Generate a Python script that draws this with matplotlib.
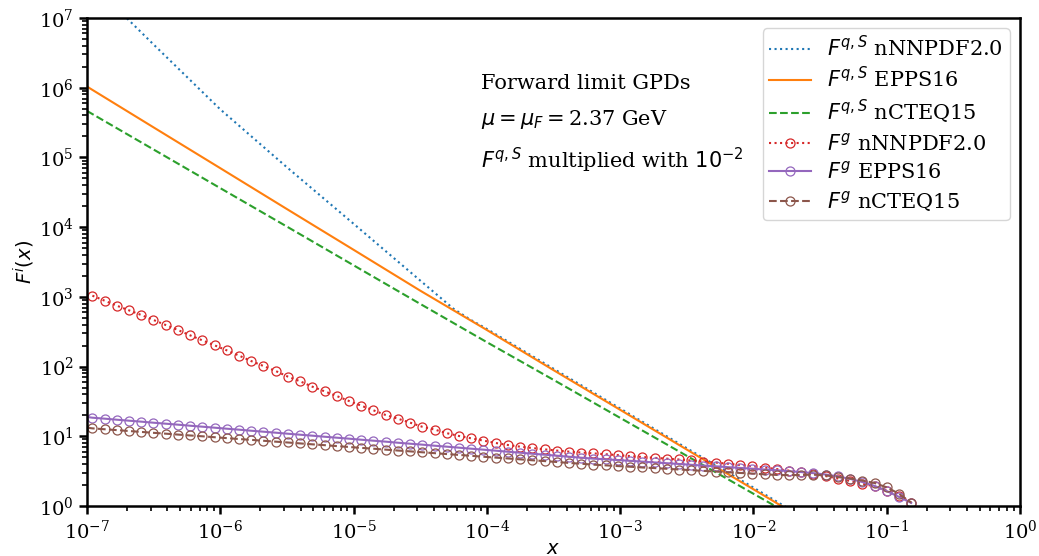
import numpy as np
import matplotlib
matplotlib.use("Agg")
import matplotlib.pyplot as plt

plt.rcParams['font.family'] = 'serif'
plt.rcParams['font.serif'] = ['DejaVu Serif']
plt.rcParams['mathtext.fontset'] = 'dejavusans'

# ---- data ----
# quark singlet (already multiplied by 1e-2)
x_q = [1e-7, 3.16e-7, 1e-6, 3.16e-6, 1e-5, 3.16e-5, 1e-4, 3.16e-4, 1e-3, 3.16e-3, 1e-2, 2e-2]
q_nnpdf_x = [1e-7, 3.16e-7, 1e-6, 3.16e-6, 1e-5, 3.16e-5, 5.62e-5, 7.50e-5, 1e-4,
             3.16e-4, 1e-3, 3.16e-3, 1e-2, 2e-2]
q_nnpdf = [3.63e7, 4.17e6, 4.90e5, 7.24e4, 1.12e4, 1718, 676, 473, 347,
           93.3, 25.1, 6.76, 1.84, 0.83]
q_epps = [1.04e6, 2.70e5, 7.02e4, 1.82e4, 4740, 1230, 335, 89.1, 24.0, 6.46, 1.74, 0.79]
q_ncteq = [4.65e5, 1.30e5, 3.63e4, 1.02e4, 2840, 794, 224, 64.6, 18.4, 5.25, 1.50, 0.71]

# gluon: first value at x = 1e-7 (line start), then the marker grid
x_g_start = 1e-7
x_g_grid = np.logspace(-6.96, -0.816, 68)
g_nnpdf = [1072,
           1042, 883, 748, 641, 550, 467, 395, 335, 281, 238, 202, 171, 144, 120, 102,
           86.5, 71.8, 61.5, 51.5, 44.2, 37.8,
           32.1, 27.5, 23.6, 20.2, 17.9, 15.7, 13.7, 12.5, 11.1, 10.1, 9.35, 8.67, 8.02,
           7.50, 7.10, 6.79, 6.50, 6.24, 6.03, 5.85, 5.69,
           5.53, 5.37, 5.20, 5.05, 4.91, 4.78, 4.65, 4.50, 4.35, 4.20, 4.04, 3.88, 3.72,
           3.56, 3.39, 3.22, 3.05, 2.88, 2.69, 2.48, 2.29, 2.09, 1.91, 1.66, 1.41, 1.12]
g_epps = [18.92,
          18.49, 17.91, 17.30, 16.75, 16.22, 15.67, 15.17, 14.69, 14.19, 13.74, 13.30,
          12.85, 12.45, 12.02, 11.64, 11.27, 10.89, 10.54, 10.21, 9.86, 9.55, 9.25, 8.93,
          8.65, 8.38, 8.09, 7.83, 7.59, 7.33, 7.10, 6.87, 6.64, 6.43, 6.22, 6.01, 5.82,
          5.62, 5.45, 5.27, 5.09, 4.93, 4.78,
          4.68, 4.56, 4.45, 4.33, 4.22, 4.11, 4.01, 3.90, 3.80, 3.71, 3.61, 3.52, 3.43,
          3.34, 3.26,
          3.16, 3.07, 2.96, 2.83, 2.66, 2.45, 2.21, 1.94, 1.64, 1.35, 1.11]
g_ncteq = [13.30,
           13.00, 12.62, 12.27, 11.91, 11.56, 11.22, 10.91, 10.59, 10.28, 10.00, 9.70,
           9.42, 9.14, 8.89, 8.63, 8.38, 8.15, 7.91, 7.67, 7.46, 7.24, 7.03, 6.82, 6.64,
           6.44, 6.25, 6.08, 5.90, 5.73, 5.56, 5.41, 5.25, 5.09, 4.95, 4.81, 4.67, 4.53,
           4.41, 4.28, 4.15, 4.04, 3.92,
           3.83, 3.74, 3.66, 3.57, 3.50, 3.42, 3.34, 3.27, 3.19, 3.12, 3.05, 2.98, 2.92,
           2.85, 2.79,
           2.77, 2.79, 2.82, 2.75, 2.60, 2.48, 2.32, 2.14, 1.85, 1.50, 1.12]

x_g = np.concatenate([[x_g_start], x_g_grid])

labels = [r"$F^{q,S}$ nNNPDF2.0", r"$F^{q,S}$ EPPS16", r"$F^{q,S}$ nCTEQ15",
          r"$F^{g}$ nNNPDF2.0", r"$F^{g}$ EPPS16", r"$F^{g}$ nCTEQ15"]

fig = plt.figure(figsize=(10.39, 5.56), dpi=100)
ax = fig.add_axes([0.0837, 0.0899, 0.8980, 0.8777])

lw = 1.5
ax.plot(q_nnpdf_x, q_nnpdf, ':', color='tab:blue', lw=lw, label=labels[0])
ax.plot(x_q, q_epps, '-', color='tab:orange', lw=lw, label=labels[1])
ax.plot(x_q, q_ncteq, '--', color='tab:green', lw=lw, label=labels[2])

mk = dict(marker='o', markerfacecolor='none', markersize=6.5, markeredgewidth=0.9,
          markevery=slice(1, None))
ax.plot(x_g, g_nnpdf, ':', color='tab:red', lw=lw, label=labels[3], **mk)
ax.plot(x_g, g_epps, '-', color='tab:purple', lw=lw, label=labels[4], **mk)
ax.plot(x_g, g_ncteq, '--', color='tab:brown', lw=lw, label=labels[5], **mk)

ax.set_xscale('log')
ax.set_yscale('log')
ax.set_xlim(1e-7, 1)
ax.set_ylim(1, 1e7)

for s in ax.spines.values():
    s.set_linewidth(1.8)
ax.tick_params(which='major', direction='out', length=6, width=1.8, labelsize=14)
ax.tick_params(which='minor', direction='out', length=3.5, width=1.2)

ax.set_xlabel(r"$x$", fontsize=14, labelpad=-2)
ax.set_ylabel(r"$F^{i}(x)$", fontsize=14, labelpad=1)

ax.text(0.422, 0.854, "Forward limit GPDs", transform=ax.transAxes, fontsize=15, va='baseline')
ax.text(0.422, 0.781, r"$\mu = \mu_F =$2.37 GeV", transform=ax.transAxes, fontsize=15, va='baseline')
ax.text(0.422, 0.693, r"$F^{q,S}$ multiplied with $10^{-2}$", transform=ax.transAxes, fontsize=15, va='baseline')

ax.legend(loc='upper right', fontsize=15, labelspacing=0.3, borderpad=0.3)

fig.savefig("out.png", dpi=100)
